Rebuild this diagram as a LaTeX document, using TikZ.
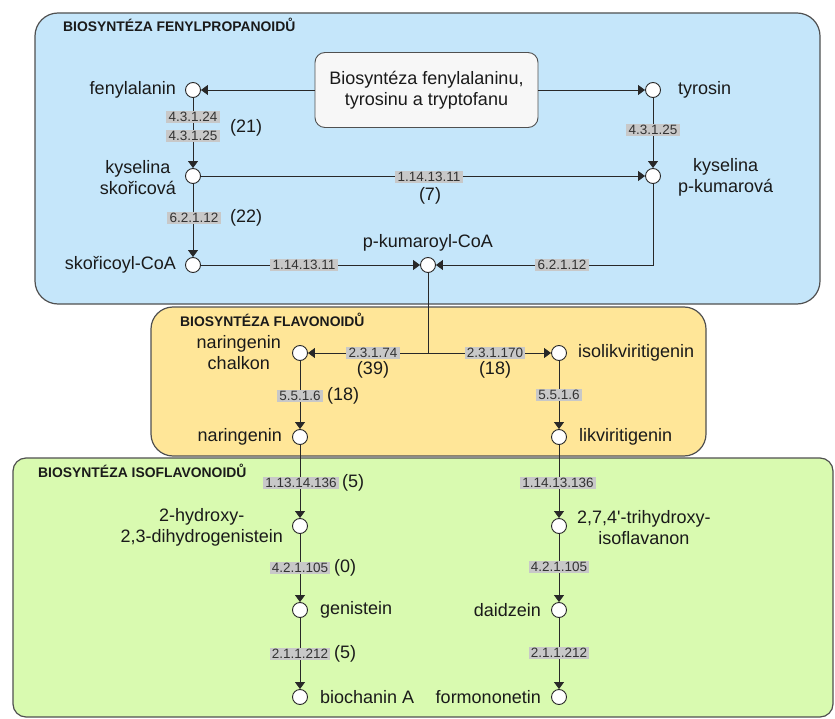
\documentclass[tikz,border=0pt]{standalone}
\usepackage{fontspec}
\setmainfont{Liberation Sans}
\usetikzlibrary{arrows.meta}
\definecolor{bluefill}{RGB}{197,230,250}
\definecolor{yellowfill}{RGB}{255,230,152}
\definecolor{greenfill}{RGB}{217,250,176}
\definecolor{enzgray}{RGB}{200,200,200}
\definecolor{txt}{RGB}{26,26,26}
\definecolor{edge}{RGB}{40,40,40}
\definecolor{frame}{RGB}{80,80,80}
\tikzset{
  region/.style={draw=frame, line width=1.2pt},
  title/.style={font=\fontsize{13.9}{15}\bfseries\selectfont, text=txt, anchor=west, inner sep=0pt},
  met/.style={circle, draw=edge, fill=white, line width=0.9pt, minimum size=15pt, inner sep=0pt},
  lbl/.style={font=\fontsize{18}{21}\selectfont, text=txt, inner sep=0pt, align=center},
  enz/.style={fill=enzgray, font=\fontsize{13.5}{14}\selectfont, text=black!80, inner xsep=2.2pt, inner ysep=1.3pt, text height=9.7pt, text depth=0.4pt},
  num/.style={font=\fontsize{18}{21}\selectfont, text=txt, inner sep=0pt},
  conn/.style={draw=edge, line width=0.9pt},
  arr/.style={conn, -{Triangle[width=10pt,length=7pt]}},
  srcbox/.style={draw=frame, fill=black!3, rounded corners=10pt, line width=0.9pt, minimum width=223pt, minimum height=75pt, font=\fontsize{18}{21}\selectfont, text=txt, align=center}
}
\begin{document}
\begin{tikzpicture}[x=1pt, y=-1pt]
\useasboundingbox (0,0) rectangle (835,719);
% regions
\draw[region, fill=bluefill, rounded corners=23pt] (35,13) rectangle (820,304);
\draw[region, fill=yellowfill, rounded corners=22pt] (151,307) rectangle (706,456);
\draw[region, fill=greenfill, rounded corners=13pt] (13,458) rectangle (833,717);
\node[title] (t1) at (63,25) {BIOSYNTÉZA FENYLPROPANOIDŮ};
\node[title] (t2) at (180,320) {BIOSYNTÉZA FLAVONOIDŮ};
\node[title] (t3) at (38,471) {BIOSYNTÉZA ISOFLAVONOIDŮ};
% source box
\node[srcbox] (src) at (426.5,90) {Biosyntéza fenylalaninu,\\tyrosinu a tryptofanu};
% metabolites
\node[met] (fen) at (193,90) {};
\node[met] (tyr) at (653,90) {};
\node[met] (ksk) at (193,176) {};
\node[met] (kpk) at (653,176) {};
\node[met] (skc) at (193,265) {};
\node[met] (pkc) at (428,265) {};
\coordinate (br) at (428,353);
\node[met] (chal) at (300,353) {};
\node[met] (iso) at (559,353) {};
\node[met] (nar) at (300,437) {};
\node[met] (lik) at (559,437) {};
\node[met] (hyd) at (300,526) {};
\node[met] (tri) at (559,526) {};
\node[met] (gen) at (300,610) {};
\node[met] (dai) at (559,610) {};
\node[met] (bio) at (300,697) {};
\node[met] (frm) at (559,697) {};
% metabolite labels
\node[lbl, anchor=east] (lfen) at (176,90) {fenylalanin};
\node[lbl, anchor=west] (ltyr) at (678,90) {tyrosin};
\node[lbl, anchor=east] (lksk) at (176,178) {kyselina\\skořicová};
\node[lbl, anchor=west] (lkpk) at (678,177) {kyselina\\p-kumarová};
\node[lbl, anchor=east] (lskc) at (176,265) {skořicoyl-CoA};
\node[lbl] (lpkc) at (428,243) {p-kumaroyl-CoA};
\node[lbl, anchor=east] (lchal) at (281,353) {naringenin\\chalkon};
\node[lbl, anchor=west] (liso) at (578,353) {isolikviritigenin};
\node[lbl, anchor=east] (lnar) at (282,437) {naringenin};
\node[lbl, anchor=west] (llik) at (579,437) {likviritigenin};
\node[lbl, anchor=east] (lhyd) at (283,527) {2-hydroxy-\\2,3-dihydrogenistein};
\node[lbl, anchor=west] (ltri) at (577,528) {2,7,4\textquotesingle-trihydroxy-\\isoflavanon};
\node[lbl, anchor=west] (lgen) at (320,610) {genistein};
\node[lbl, anchor=east] (ldai) at (541,610) {daidzein};
\node[lbl, anchor=west] (lbio) at (320,697) {biochanin A};
\node[lbl, anchor=east] (lfrm) at (541,697) {formononetin};
% connectors
\draw[arr] (src.west) -- (fen);
\draw[arr] (src.east) -- (tyr);
\draw[arr] (fen) -- (ksk);
\draw[arr] (tyr) -- (kpk);
\draw[arr] (ksk) -- (kpk);
\draw[arr] (ksk) -- (skc);
\draw[arr] (skc) -- (pkc);
\draw[arr] (kpk) |- (pkc);
\draw[conn] (pkc) -- (br);
\draw[arr] (br) -- (chal);
\draw[arr] (br) -- (iso);
\draw[arr] (chal) -- (nar);
\draw[arr] (iso) -- (lik);
\draw[arr] (nar) -- (hyd);
\draw[arr] (lik) -- (tri);
\draw[arr] (hyd) -- (gen);
\draw[arr] (tri) -- (dai);
\draw[arr] (gen) -- (bio);
\draw[arr] (dai) -- (frm);
% enzyme labels
\node[enz] (e1) at (193,117) {4.3.1.24};
\node[enz] (e2) at (193,136) {4.3.1.25};
\node[num, anchor=west] (n1) at (230,128) {(21)};
\node[enz] (e3) at (653,130) {4.3.1.25};
\node[enz] (e4) at (429,177) {1.14.13.11};
\node[num] (n2) at (430,196) {(7)};
\node[enz] (e5) at (194,218) {6.2.1.12};
\node[num, anchor=west] (n3) at (230,218) {(22)};
\node[enz] (e6) at (304,265) {1.14.13.11};
\node[enz] (e7) at (562,265) {6.2.1.12};
\node[enz] (e8) at (373,353) {2.3.1.74};
\node[num] (n4) at (373,370) {(39)};
\node[enz] (e9) at (495,353) {2.3.1.170};
\node[num] (n5) at (495,370) {(18)};
\node[enz] (e10) at (300,396) {5.5.1.6};
\node[num, anchor=west] (n6) at (327,396) {(18)};
\node[enz] (e11) at (559,395) {5.5.1.6};
\node[enz] (e12) at (301,483) {1.13.14.136};
\node[num, anchor=west] (n7) at (342,483) {(5)};
\node[enz] (e13) at (558,483) {1.14.13.136};
\node[enz] (e14) at (300,568) {4.2.1.105};
\node[num, anchor=west] (n8) at (334,568) {(0)};
\node[enz] (e15) at (559,567) {4.2.1.105};
\node[enz] (e16) at (300,654) {2.1.1.212};
\node[num, anchor=west] (n9) at (334,654) {(5)};
\node[enz] (e17) at (559,653) {2.1.1.212};
\end{tikzpicture}
\end{document}
